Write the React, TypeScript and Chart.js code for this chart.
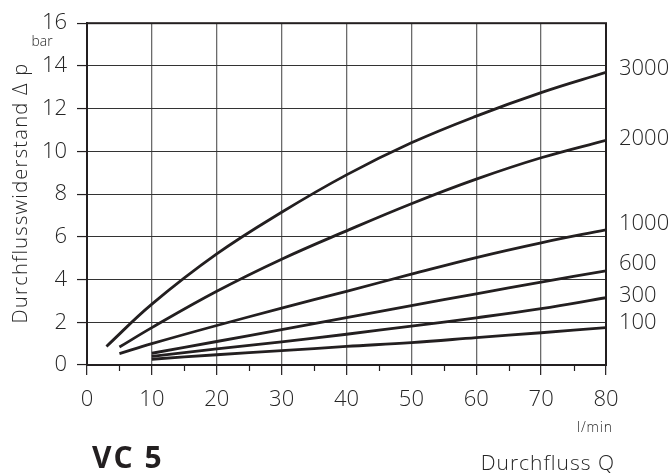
import React, { useEffect, useRef } from "react";
import { Chart, registerables } from "chart.js";

Chart.register(...registerables);

const seriesLabels = ["3000", "2000", "1000", "600", "300", "100"];
const xs3000 = [3, 10, 20, 30, 40, 50, 60, 70, 80];
const ys3000 = [0.87, 2.85, 5.2, 7.15, 8.9, 10.4, 11.65, 12.75, 13.7];
const xs2000 = [5, 10, 20, 30, 40, 50, 60, 70, 80];
const ys2000 = [0.84, 1.75, 3.45, 4.95, 6.28, 7.55, 8.7, 9.7, 10.52];
const xs1000 = [5, 10, 20, 30, 40, 50, 60, 70, 80];
const ys1000 = [0.53, 1.0, 1.85, 2.66, 3.45, 4.25, 5.03, 5.72, 6.33];
const xs600 = [10, 20, 30, 40, 50, 60, 70, 80];
const ys600 = [0.55, 1.1, 1.66, 2.22, 2.78, 3.33, 3.88, 4.41];
const xs300 = [10, 20, 30, 40, 50, 60, 70, 80];
const ys300 = [0.4, 0.75, 1.08, 1.44, 1.82, 2.21, 2.64, 3.15];
const xs100 = [10, 20, 30, 40, 50, 60, 70, 80];
const ys100 = [0.27, 0.48, 0.67, 0.87, 1.05, 1.28, 1.51, 1.75];
// where the curve names sit on the right, in bar
const labelValues = [13.87, 10.6, 6.59, 4.73, 3.25, 1.96];
const minorXTicks = [5, 15, 25, 35, 45, 55, 65, 75];

const seriesX = [xs3000, xs2000, xs1000, xs600, xs300, xs100];
const seriesY = [ys3000, ys2000, ys1000, ys600, ys300, ys100];

const INK = "#231f20";
const TEXT = "#262626";
const FONT = "'Open Sans', Lato, sans-serif";

const overlay = {
  id: "overlay",
  afterDraw(chart: any) {
    const { ctx, chartArea } = chart;
    const xS = chart.scales.x;
    const yS = chart.scales.y;
    ctx.save();
    // frame
    ctx.strokeStyle = INK;
    ctx.lineWidth = 2;
    ctx.strokeRect(chartArea.left, chartArea.top, chartArea.right - chartArea.left, chartArea.bottom - chartArea.top);
    // minor ticks
    ctx.lineWidth = 1.2;
    minorXTicks.forEach((v) => {
      const px = Math.round(xS.getPixelForValue(v)) + 0.5;
      ctx.beginPath();
      ctx.moveTo(px, chartArea.bottom);
      ctx.lineTo(px, chartArea.bottom + 6);
      ctx.stroke();
    });
    ctx.fillStyle = TEXT;
    // right labels
    ctx.font = `300 22px ${FONT}`;
    ctx.textAlign = "left";
    ctx.textBaseline = "middle";
    seriesLabels.forEach((l, i) => {
      ctx.fillText(l, chartArea.right + 13, yS.getPixelForValue(labelValues[i]));
    });
    // bar
    ctx.font = `300 14px ${FONT}`;
    ctx.textAlign = "center";
    ctx.textBaseline = "alphabetic";
    ctx.fillText("bar", 42, 46);
    // l/min
    ctx.textAlign = "left";
    (ctx as any).letterSpacing = "0.8px";
    ctx.fillText("l/min", 577, 432);
    // Durchfluss Q
    ctx.font = `300 21px ${FONT}`;
    (ctx as any).letterSpacing = "1px";
    ctx.textAlign = "right";
    ctx.fillText("Durchfluss Q", 615, 470);
    // VC 5
    ctx.fillStyle = INK;
    ctx.font = `bold 30px ${FONT}`;
    (ctx as any).letterSpacing = "2px";
    ctx.textAlign = "left";
    ctx.fillText("VC 5", 92, 468);
    // y title
    ctx.fillStyle = TEXT;
    ctx.font = `300 20px ${FONT}`;
    (ctx as any).letterSpacing = "1.3px";
    ctx.translate(27, 193);
    ctx.rotate(-Math.PI / 2);
    ctx.textAlign = "center";
    ctx.fillText("Durchflusswiderstand \u0394 p", 0, 0);
    ctx.restore();
  },
};

export default function App() {
  const ref = useRef<HTMLCanvasElement>(null);
  useEffect(() => {
    if (!ref.current) return;
    const chart = new Chart(ref.current, {
      type: "line",
      data: {
        datasets: seriesLabels.map((l, i) => ({
          label: l,
          data: seriesX[i].map((x, j) => ({ x, y: seriesY[i][j] })),
          borderColor: INK,
          borderWidth: 2.8,
          pointRadius: 0,
          fill: false,
          tension: 0.4,
        })),
      },
      options: {
        responsive: false,
        animation: false,
        devicePixelRatio: 1,
        layout: { padding: { top: 19, right: 66, left: 0, bottom: 0 } },
        plugins: { legend: { display: false }, tooltip: { enabled: false } },
        scales: {
          x: {
            type: "linear",
            min: 0,
            max: 80,
            afterFit: (s: any) => {
              s.height = 108;
            },
            ticks: {
              stepSize: 10,
              color: TEXT,
              font: { family: FONT, size: 22, weight: "300" },
              padding: 12,
              maxRotation: 0,
            },
            grid: { color: "#6b6b6b", lineWidth: 1.3, tickLength: 10, tickColor: INK, tickWidth: 1.2 },
            border: { display: true, color: INK, width: 2 },
          },
          y: {
            type: "linear",
            min: 0,
            max: 16,
            afterFit: (s: any) => {
              s.width = 87;
            },
            ticks: {
              stepSize: 2,
              color: TEXT,
              font: { family: FONT, size: 22, weight: "300" },
              padding: 10,
            },
            grid: { color: "#333333", lineWidth: 1.1, tickLength: 10, tickColor: INK, tickWidth: 1.2 },
            border: { display: true, color: INK, width: 2 },
          },
        },
      },
      plugins: [overlay],
    });
    return () => chart.destroy();
  }, []);
  return (
    <div style={{ position: "absolute", left: 0, top: 0, width: 672, height: 473, background: "#fff" }}>
      <canvas ref={ref} width={672} height={473} style={{ display: "block" }} />
    </div>
  );
}
